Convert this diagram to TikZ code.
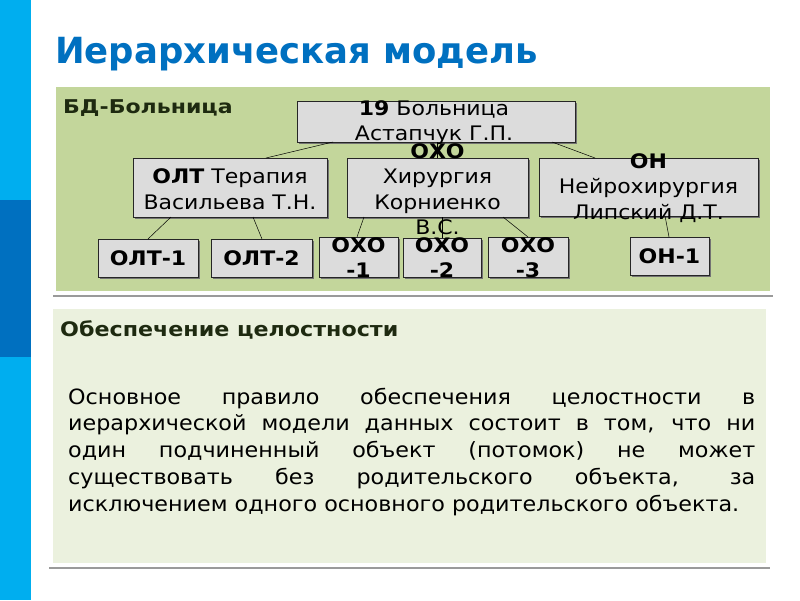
\documentclass[tikz,border=0pt]{standalone}
\usepackage{fontspec}
\setmainfont{DejaVu Sans}
\newfontfamily\wideA{DejaVu Sans}[FakeStretch=1.1]
\newfontfamily\wideB{DejaVu Sans}[FakeStretch=1.16]
\newfontfamily\bodyf{DejaVu Sans}[FakeStretch=1.06]
\newfontfamily\headf{DejaVu Sans}[FakeStretch=1.11]
\newfontfamily\titlef{DejaVu Sans}[FakeStretch=0.984]
\usetikzlibrary{calc,shadows}
\definecolor{barcyan}{HTML}{00AEEF}
\definecolor{barblue}{HTML}{0070C0}
\definecolor{titleblue}{HTML}{0070C0}
\definecolor{greenbg}{HTML}{C3D69B}
\definecolor{lightbg}{HTML}{EBF1DE}
\definecolor{rulegray}{HTML}{9A9A9A}
\definecolor{boxfill}{HTML}{DCDCDC}
\definecolor{darktxt}{HTML}{1E2A10}
\tikzset{
  hbox/.style={draw=black!85, line width=0.9pt, fill=boxfill, inner sep=0pt, outer sep=0pt,
    drop shadow={shadow xshift=2pt, shadow yshift=-2pt, fill=black!55, opacity=1}},
  htxt/.style={align=center, inner sep=0pt, font=\wideA\fontsize{20}{25.5}\selectfont, text=black},
  btxt/.style={align=center, inner sep=0pt, font=\wideA\fontsize{20}{25}\selectfont\bfseries, text=black},
  conn/.style={draw=black, line width=0.5pt},
  rulel/.style={draw=rulegray, line width=2pt},
}
\begin{document}
\begin{tikzpicture}[x=1pt,y=-1pt]
\useasboundingbox (0,0) rectangle (800,600);
\fill[white] (0,0) rectangle (800,600);
% left bar
\fill[barcyan] (0,0) rectangle (31,600);
\fill[barblue] (0,200) rectangle (31,357);
% title
\node[anchor=base west, inner sep=0pt, text=titleblue, font=\titlef\fontsize{36}{40}\selectfont\bfseries] (title) at (55,63) {Иерархическая модель};
% green panel
\fill[greenbg] (56,87) rectangle (770,291);
\draw[rulel] (53,295.5) -- (773,295.5);
\node[anchor=base west, inner sep=0pt, text=darktxt, font=\wideB\fontsize{19}{22}\selectfont\bfseries] (bd) at (63,113) {БД-Больница};
% boxes
\node[hbox, minimum width=278, minimum height=41] (root) at (436,121.5) {};
\node[hbox, minimum width=194, minimum height=59] (olt) at (230,187.5) {};
\node[hbox, minimum width=181, minimum height=59] (oxo) at (437.5,187.5) {};
\node[hbox, minimum width=219, minimum height=58] (oh) at (648.5,187) {};
\node[hbox, minimum width=100, minimum height=38] (olt1) at (148,258) {};
\node[hbox, minimum width=101, minimum height=38] (olt2) at (261.5,258) {};
\node[hbox, minimum width=79, minimum height=40] (oxo1) at (358.5,257) {};
\node[hbox, minimum width=78, minimum height=39] (oxo2) at (442,257.5) {};
\node[hbox, minimum width=80, minimum height=40] (oxo3) at (528,257) {};
\node[hbox, minimum width=79, minimum height=38] (oh1) at (669.5,256) {};
% connectors
\draw[conn] ($(root.south)+(-103,0)$) -- ($(olt.north)+(36,0)$);
\draw[conn] ($(root.south)+(1,0)$) -- ($(oxo.north)+(-0.5,0)$);
\draw[conn] ($(root.south)+(116,0)$) -- ($(oh.north)+(-53.5,0)$);
\draw[conn] ($(olt.south)+(-59,0)$) -- (olt1.north);
\draw[conn] ($(olt.south)+(23,0)$) -- ($(olt2.north)+(0.5,0)$);
\draw[conn] ($(oxo.south)+(-73.5,0)$) -- ($(oxo1.north)+(-1.5,0)$);
\draw[conn] ($(oxo.south)+(4.5,0)$) -- (oxo2.north);
\draw[conn] ($(oxo.south)+(65.5,0)$) -- (oxo3.north);
\draw[conn] ($(oh.south)+(16.5,0)$) -- ($(oh1.north)+(-0.5,0)$);
% texts
\node[htxt] (troot) at (434,122.5) {\textbf{19} Больница\\Астапчук Г.П.};
\node[htxt] (tolt) at (230,189) {\textbf{ОЛТ} Терапия\\Васильева Т.Н.};
\node[htxt] (toxo) at (437.5,189) {\textbf{ОХО}\\Хирургия\\Корниенко\\В.С.};
\node[htxt] (toh) at (648.5,188) {\textbf{ОН}\\Нейрохирургия\\Липский Д.Т.};
\node[btxt] (tolt1) at (148,258) {ОЛТ-1};
\node[btxt] (tolt2) at (261.5,258) {ОЛТ-2};
\node[btxt] (toxo1) at (358.5,257.5) {ОХО\\-1};
\node[btxt] (toxo2) at (442,258) {ОХО\\-2};
\node[btxt] (toxo3) at (528,257.5) {ОХО\\-3};
\node[btxt] (toh1) at (669.5,256) {ОН-1};
% lower panel
\fill[lightbg] (53,309) rectangle (766,563);
\draw[draw=rulegray, line width=1.5pt] (49,568) -- (770,568);
\node[anchor=base west, inner sep=0pt, text=darktxt, font=\headf\fontsize{20}{22}\selectfont\bfseries] (h2) at (60,336) {Обеспечение целостности};
\node[anchor=north west, inner sep=0pt, align=left, font=\bodyf\fontsize{21}{26.8}\selectfont] (body) at (68,387.5) {%
\makebox[687pt][s]{Основное правило обеспечения целостности в}\\
\makebox[687pt][s]{иерархической модели данных состоит в том, что ни}\\
\makebox[687pt][s]{один подчиненный объект (потомок) не может}\\
\makebox[687pt][s]{существовать без родительского объекта, за}\\
исключением одного основного родительского объекта.};
\end{tikzpicture}
\end{document}
